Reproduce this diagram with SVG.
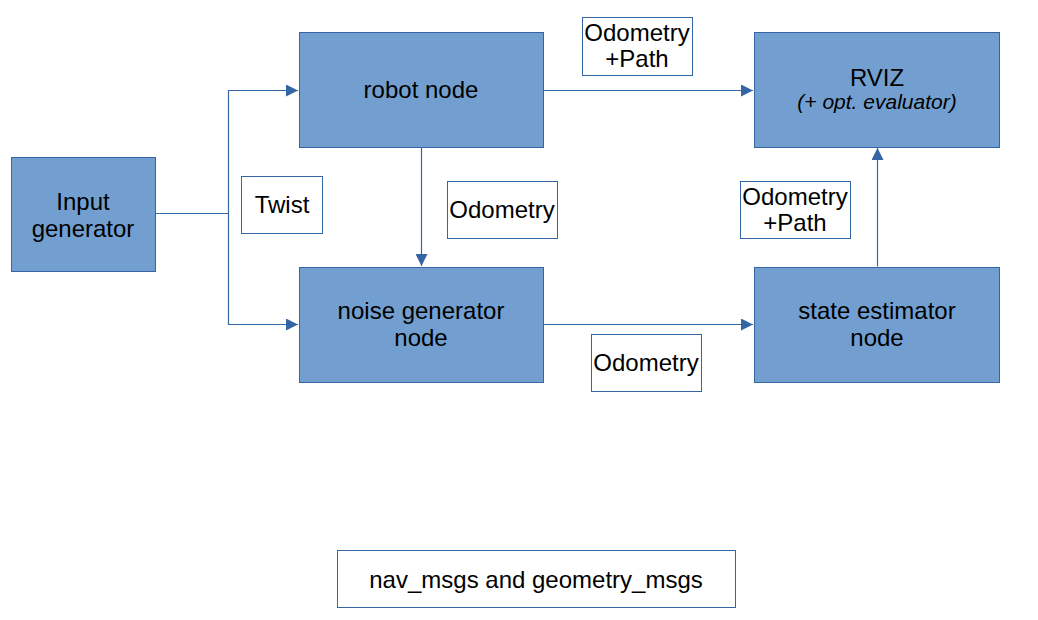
<svg xmlns="http://www.w3.org/2000/svg" width="1038" height="620" viewBox="0 0 1038 620">
<defs>
<style>
.node{fill:#729fcf;stroke:#3465a4;stroke-width:1}
.lbl{fill:#ffffff;stroke:#3465a4;stroke-width:1}
.t{font-family:"Liberation Sans",Arial,sans-serif;font-size:24px;fill:#000;text-anchor:middle}
.i{font-style:italic;font-size:21px}
.c{fill:none;stroke:#3465a4;stroke-width:1.2}
</style>
<marker id="ah" viewBox="0 0 10 10" refX="10" refY="5" markerWidth="16" markerHeight="12" markerUnits="userSpaceOnUse" orient="auto">
<path d="M0,0 L10,5 L0,10 z" fill="#3465a4"/>
</marker>
</defs>
<rect width="1038" height="620" fill="#fff"/>
<g id="connectors">
<polyline class="c" points="155.5,213.5 228.5,213.5"/>
<polyline class="c" points="228.5,213.5 228.5,90.5 298,90.5" marker-end="url(#ah)"/>
<polyline class="c" points="228.5,213.5 228.5,324.5 298,324.5" marker-end="url(#ah)"/>
<line class="c" x1="543.5" y1="90.5" x2="753" y2="90.5" marker-end="url(#ah)"/>
<line class="c" x1="421.5" y1="147.5" x2="421.5" y2="266" marker-end="url(#ah)"/>
<line class="c" x1="543.5" y1="324.5" x2="753" y2="324.5" marker-end="url(#ah)"/>
<line class="c" x1="877.5" y1="266.5" x2="877.5" y2="148" marker-end="url(#ah)"/>
</g>
<g id="input-generator">
<rect class="node" x="11.5" y="157.5" width="144" height="114"/>
<text class="t" x="83" y="210">Input</text>
<text class="t" x="83" y="237">generator</text>
</g>
<g id="robot-node">
<rect class="node" x="299.5" y="32.5" width="244" height="115"/>
<text class="t" x="421" y="98">robot node</text>
</g>
<g id="noise-generator-node">
<rect class="node" x="299.5" y="267.5" width="244" height="115"/>
<text class="t" x="421" y="319">noise generator</text>
<text class="t" x="421" y="346">node</text>
</g>
<g id="rviz">
<rect class="node" x="754.5" y="32.5" width="245" height="115"/>
<text class="t" x="877" y="86">RVIZ</text>
<text class="t i" x="877" y="109">(+ opt. evaluator)</text>
</g>
<g id="state-estimator-node">
<rect class="node" x="754.5" y="267.5" width="245" height="115"/>
<text class="t" x="877" y="319">state estimator</text>
<text class="t" x="877" y="346">node</text>
</g>
<g id="label-twist">
<rect class="lbl" x="241.5" y="176.5" width="81" height="57"/>
<text class="t" x="282" y="213">Twist</text>
</g>
<g id="label-odometry-1">
<rect class="lbl" x="447.5" y="181.5" width="110" height="57"/>
<text class="t" x="502" y="218">Odometry</text>
</g>
<g id="label-odometry-path-1">
<rect class="lbl" x="582.5" y="17.5" width="110" height="58"/>
<text class="t" x="637" y="41">Odometry</text>
<text class="t" x="637" y="67">+Path</text>
</g>
<g id="label-odometry-path-2">
<rect class="lbl" x="740.5" y="181.5" width="110" height="57"/>
<text class="t" x="795" y="205">Odometry</text>
<text class="t" x="795" y="231">+Path</text>
</g>
<g id="label-odometry-2">
<rect class="lbl" x="591.5" y="334.5" width="110" height="57"/>
<text class="t" x="646" y="371">Odometry</text>
</g>
<g id="legend">
<rect class="lbl" x="337.5" y="550.5" width="398" height="57"/>
<text class="t" x="536" y="588">nav_msgs and geometry_msgs</text>
</g>
</svg>
